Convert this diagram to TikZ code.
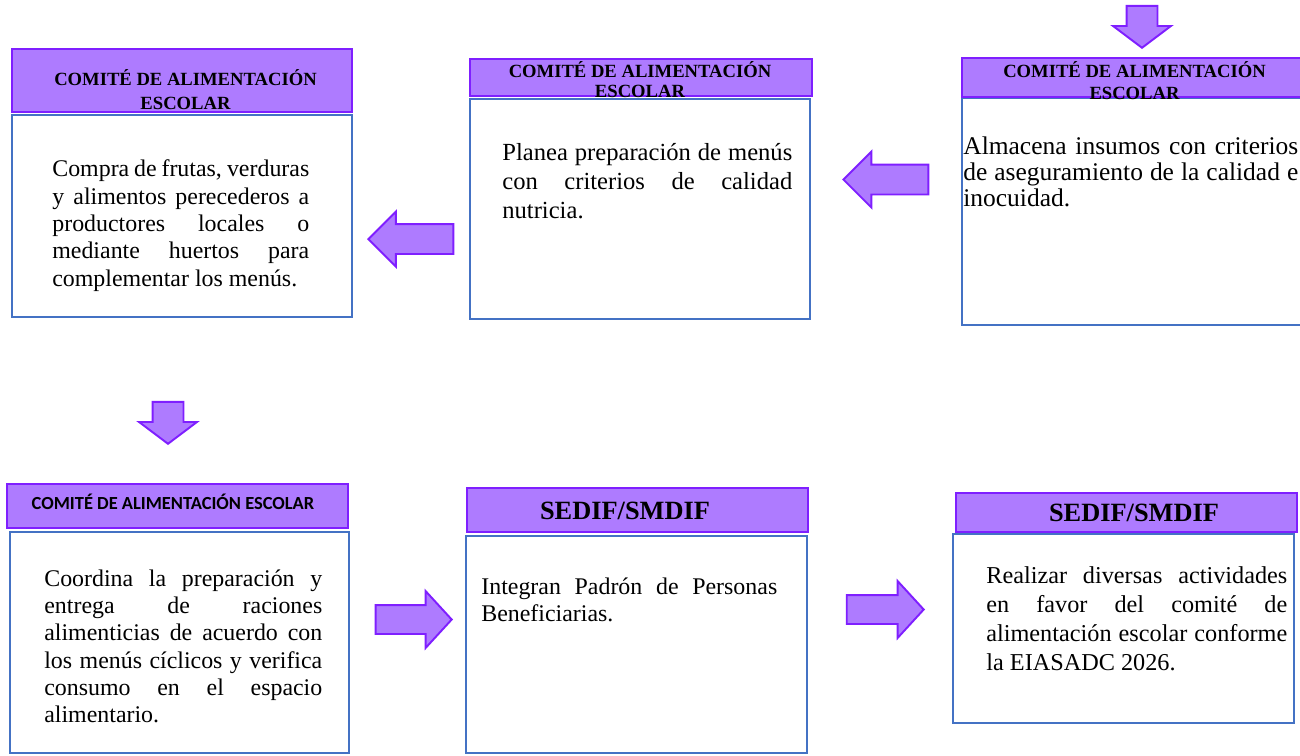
\documentclass[tikz,border=0pt]{standalone}
\usepackage{fontspec}
\setmainfont{Liberation Serif}
\newfontfamily\calibri{Carlito}
\usetikzlibrary{shapes.arrows}
\tolerance=10000
\hyphenpenalty=10000
\definecolor{morado}{HTML}{AE7BFF}
\definecolor{moradoborde}{HTML}{7F1FFF}
\definecolor{azul}{HTML}{4472C4}
\tikzset{
  cuadro/.style = {draw=azul, line width=1.1pt, inner sep=0pt},
  titulo/.style = {draw=moradoborde, fill=morado, line width=0.8pt, inner sep=0pt},
  titulo_txt/.style = {align=center, inner sep=0pt, font=\bfseries\fontsize{10.6}{#1}\selectfont},
  sedif_txt/.style = {inner sep=0pt, font=\bfseries\fontsize{15}{18}\selectfont},
  texto/.style = {anchor=north west, inner sep=0pt, align=justify},
  flecha/.style = {single arrow, draw=moradoborde, fill=morado, line width=1.1pt, inner xsep=0pt,
    inner ysep=2.8mm, single arrow head extend=2.6mm, single arrow tip angle=90, anchor=tip},
  flecha_abajo/.style = {flecha, rotate=-90, inner ysep=2.9mm, single arrow head extend=2.7mm,
    single arrow tip angle=106, minimum height=8.4mm}
}

\begin{document}
\begin{tikzpicture}[x=0.02cm, y=-0.02cm]
\useasboundingbox (0,0) rectangle (1300,755);

% fila superior
\node [cuadro, minimum width=68mm, minimum height=40.4mm] (c1) at (182,216) {};
\node [cuadro, minimum width=68mm, minimum height=44mm] (c2) at (640,209) {};
\node [cuadro, minimum width=68.4mm, minimum height=45.4mm] (c3) at (1133,211.5) {};
\node [titulo, minimum width=68mm, minimum height=12.6mm] (t1) at (182,80.5) {};
\node [titulo, minimum width=68.4mm, minimum height=7.4mm] (t2) at (641,77.5) {};
\node [titulo, minimum width=68.4mm, minimum height=7.8mm] (t3) at (1133,77.5) {};
\node [titulo_txt=13.6] (tt1) at (185.5,90) {COMITÉ DE ALIMENTACIÓN\\ESCOLAR};
\node [titulo_txt=11.3] (tt2) at (640,80) {COMITÉ DE ALIMENTACIÓN\\ESCOLAR};
\node [titulo_txt=12.5] (tt3) at (1134.5,81) {COMITÉ DE ALIMENTACIÓN\\ESCOLAR};

\node [texto, text width=51.4mm, font=\fontsize{13.6}{15.6}\selectfont] (x1) at (52,159.5)
  {Compra de frutas, verduras\linebreak y alimentos perecederos a\linebreak productores locales o\linebreak mediante huertos para\linebreak complementar los menús.};
\node [texto, text width=58mm, font=\fontsize{14}{16.4}\selectfont] (x2) at (502,143)
  {Planea preparación de menús\linebreak con criterios de calidad\linebreak nutricia.};
\node [texto, text width=67mm, font=\fontsize{14.5}{15}\selectfont] (x3) at (963,136)
  {Almacena insumos con criterios\linebreak de aseguramiento de la calidad e\linebreak inocuidad.};

% flechas de arriba
\node [flecha_abajo] (f3) at (1142,49) {};
\node [flecha, rotate=180, minimum height=17mm] (f2) at (842,179.5) {};
\node [flecha, rotate=180, minimum height=17mm, single arrow head extend=2.5mm] (f1) at (367,239) {};

% fila inferior
\node [flecha_abajo] (f4) at (168,445) {};

\node [cuadro, minimum width=67.8mm, minimum height=44.2mm] (c4) at (179.5,642.5) {};
\node [cuadro, minimum width=68.2mm, minimum height=43.4mm] (c5) at (636.5,644.5) {};
\node [cuadro, minimum width=68.2mm, minimum height=37.8mm] (c6) at (1123.5,628.5) {};
\node [titulo, minimum width=68.2mm, minimum height=8.8mm] (t4) at (177.5,506) {};
\node [titulo, minimum width=68.2mm, minimum height=8.8mm] (t5) at (637.5,510) {};
\node [titulo, minimum width=68.2mm, minimum height=7.8mm] (t6) at (1126.5,512.5) {};
\node [inner sep=0pt, font=\calibri\bfseries\fontsize{10.5}{12}\selectfont] (tt4) at (173,502) {COMITÉ DE ALIMENTACIÓN ESCOLAR};
\node [sedif_txt] (tt5) at (625,511) {SEDIF/SMDIF};
\node [sedif_txt] (tt6) at (1134,513) {SEDIF/SMDIF};

\node [texto, text width=55.6mm, font=\fontsize{13.6}{15.5}\selectfont] (x4) at (44,569.5)
  {Coordina la preparación y\linebreak entrega de raciones\linebreak alimenticias de acuerdo con\linebreak los menús cíclicos y verifica\linebreak consumo en el espacio\linebreak alimentario.};
\node [texto, text width=59.2mm, font=\fontsize{13.6}{15.3}\selectfont] (x5) at (481,578)
  {Integran Padrón de Personas\linebreak Beneficiarias.};
\node [texto, text width=60.2mm, font=\fontsize{13.8}{16.4}\selectfont] (x6) at (986,566.5)
  {Realizar diversas actividades\linebreak en favor del comité de\linebreak alimentación escolar conforme\linebreak la EIASADC 2026.};

\node [flecha, minimum height=15.2mm, inner ysep=2.7mm, single arrow head extend=2.8mm,
  single arrow tip angle=95] (f5) at (453,619.5) {};
\node [flecha, minimum height=15.4mm, inner ysep=2.7mm, single arrow head extend=2.8mm,
  single arrow tip angle=95] (f6) at (925,609.5) {};
\end{tikzpicture}
\end{document}
